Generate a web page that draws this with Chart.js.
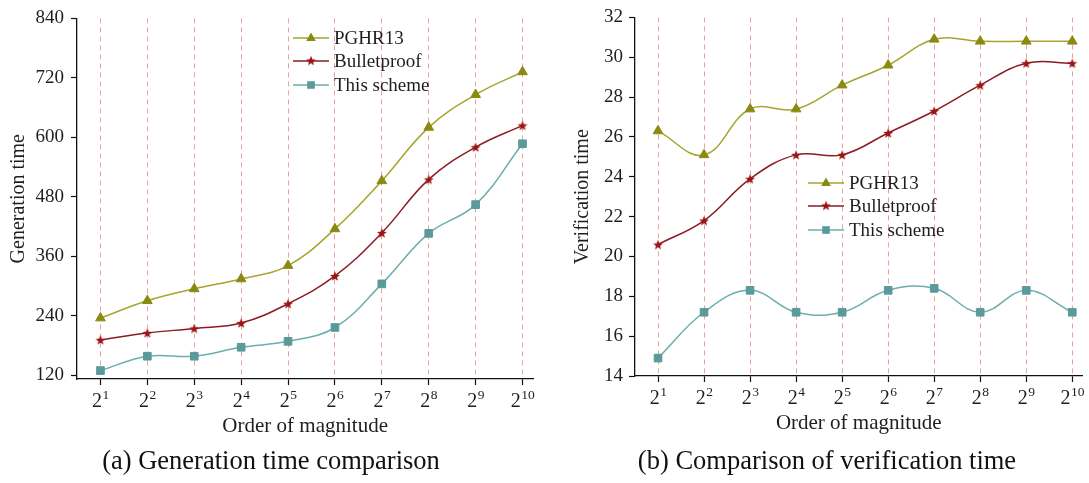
<!DOCTYPE html>
<html><head><meta charset="utf-8">
<script src="https://cdn.jsdelivr.net/npm/chart.js@4"></script>
<style>
html,body{margin:0;padding:0;background:#fff;width:1089px;height:483px;overflow:hidden;}
.wrap{position:absolute;top:0;height:483px;}
#w1{left:0;width:545px;}
#w2{left:545px;width:544px;}
.legend{position:absolute;font-family:'Liberation Serif',serif;font-size:19px;color:#1e1e1e;}
.legend .row{display:flex;align-items:center;height:23.5px;}
.legend canvas{margin-right:5px;}
.caption{position:absolute;font-family:'Liberation Serif',serif;font-size:26.5px;color:#111;white-space:nowrap;transform:translateX(-50%);}
</style>
</head><body>
<div class="wrap" id="w1"><canvas id="c1" width="545" height="483"></canvas></div>
<div class="wrap" id="w2"><canvas id="c2" width="544" height="483"></canvas></div>
<div class="legend" id="lg1" style="left:293px;top:26px;"></div>
<div class="legend" id="lg2" style="left:808px;top:171px;"></div>
<div class="caption" style="left:271px;top:445px;">(a) Generation time comparison</div>
<div class="caption" style="left:827px;top:445px;">(b) Comparison of verification time</div>
<script>
// ---- data ----
const categories = ['2^1','2^2','2^3','2^4','2^5','2^6','2^7','2^8','2^9','2^10'];
const seriesNames = ['PGHR13','Bulletproof','This scheme'];
const pghr13Gen = [235, 270, 294, 314, 341, 415, 512, 620, 686, 732];
const bulletGen = [191, 205, 214, 225, 264, 320, 407, 515, 580, 624];
const schemeGen = [129, 158, 158, 176, 188, 216, 304, 406, 464, 587];
const pghr13Ver = [26.3, 25.1, 27.4, 27.4, 28.6, 29.6, 30.9, 30.8, 30.8, 30.8];
const bulletVer = [20.6, 21.8, 23.9, 25.1, 25.1, 26.2, 27.3, 28.6, 29.7, 29.7];
const schemeVer = [14.9, 17.2, 18.3, 17.2, 17.2, 18.3, 18.4, 17.2, 18.3, 17.2];
const genTicks = [120, 240, 360, 480, 600, 720, 840];
const verTicks = [14, 16, 18, 20, 22, 24, 26, 28, 30, 32];

// ---- styles ----
const FONT = "'Liberation Serif', 'Times New Roman', serif";
const TXT = '#1e1e1e';
const styles = [
  {line:'#a5a530', mark:'#8a8a10', shape:'triangle'},
  {line:'#8a1c24', mark:'#9c1414', shape:'star'},
  {line:'#6aaeae', mark:'#5b9a9a', shape:'rect'}
];

function starImage(color){
  const c = document.createElement('canvas'); c.width = 12; c.height = 12;
  const g = c.getContext('2d'); g.fillStyle = color; g.beginPath();
  for (let i = 0; i < 10; i++){
    const r = i % 2 ? 2.2 : 5.2, a = -Math.PI/2 + i*Math.PI/5;
    const px = 6 + r*Math.cos(a), py = 6.5 + r*Math.sin(a);
    i ? g.lineTo(px,py) : g.moveTo(px,py);
  }
  g.closePath(); g.fill(); return c;
}
function drawMarker(g, shape, color, x, y){
  g.fillStyle = color;
  if (shape === 'triangle'){
    g.beginPath(); g.moveTo(x, y-5.5); g.lineTo(x+4.8, y+3); g.lineTo(x-4.8, y+3); g.closePath(); g.fill();
  } else if (shape === 'rect'){
    g.fillRect(x-3.8, y-3.8, 7.6, 7.6);
  } else {
    g.drawImage(starImage(color), x-6, y-6.5);
  }
}
function legendSymbol(st){
  const c = document.createElement('canvas'); c.width = 36; c.height = 16;
  const g = c.getContext('2d');
  g.strokeStyle = st.line; g.lineWidth = 1.5;
  g.beginPath(); g.moveTo(0, 8); g.lineTo(36, 8); g.stroke();
  drawMarker(g, st.shape, st.mark, 18, 8);
  return c;
}
function buildLegend(id){
  const el = document.getElementById(id);
  seriesNames.forEach((n, i) => {
    const row = document.createElement('div'); row.className = 'row';
    row.appendChild(legendSymbol(styles[i]));
    const s = document.createElement('span'); s.textContent = n; row.appendChild(s);
    el.appendChild(row);
  });
}
buildLegend('lg1'); buildLegend('lg2');

// x tick labels drawn as base with superscript exponent, at the x scale's tick pixels
const supTicks = {
  id: 'supTicks',
  afterDraw(chart){
    const s = chart.scales.x, g = chart.ctx;
    g.save(); g.fillStyle = TXT; g.textBaseline = 'alphabetic'; g.textAlign = 'left';
    categories.forEach((lab, i) => {
      const [b, e] = lab.split('^');
      const x = s.getPixelForValue(i + 1);
      g.font = `20px ${FONT}`; const wb = g.measureText(b).width;
      g.font = `13.5px ${FONT}`; const we = g.measureText(e).width;
      const x0 = x - (wb + we) / 2, y = s.top + 28;
      g.font = `20px ${FONT}`; g.fillText(b, x0, y);
      g.font = `13.5px ${FONT}`; g.fillText(e, x0 + wb + 0.5, y - 8);
    });
    g.restore();
  }
};

function makeDatasets(arrs){
  return arrs.map((arr, i) => {
    const st = styles[i];
    return {
      label: seriesNames[i],
      data: arr.map((v, j) => ({x: j + 1, y: v})),
      borderColor: st.line, borderWidth: 1.5,
      backgroundColor: st.mark,
      pointStyle: st.shape === 'star' ? starImage(st.mark) : st.shape,
      pointRadius: st.shape === 'triangle' ? 5.6 : 5.4,
      pointBackgroundColor: st.mark, pointBorderColor: st.mark, pointBorderWidth: 1,
      tension: 0.4, fill: false
    };
  });
}

function makeChart(id, cfg){
  new Chart(document.getElementById(id), {
    type: 'line',
    data: {datasets: makeDatasets(cfg.series)},
    plugins: [supTicks],
    options: {
      responsive: false, animation: false,
      layout: {padding: cfg.padding},
      plugins: {legend: {display: false}, tooltip: {enabled: false}},
      scales: {
        x: {
          type: 'linear', min: 0.5, max: cfg.xmax,
          afterBuildTicks: s => { s.ticks = categories.map((c, i) => ({value: i + 1})); },
          afterFit: s => { s.height = 60; },
          ticks: {display: false},
          grid: {
            color: '#e8a0a0', lineWidth: 1, drawOnChartArea: true, drawTicks: true,
            borderDash: [5, 4], tickLength: 6, tickColor: '#111', tickWidth: 1.2, tickBorderDash: []
          },
          border: {display: true, color: '#111', width: 1.3, dash: [5, 4]},
          title: {display: true, text: 'Order of magnitude', font: {family: FONT, size: 21}, color: TXT, padding: {top: 1, bottom: 0}}
        },
        y: {
          type: 'linear', min: cfg.ymin, max: cfg.ymax,
          afterBuildTicks: s => { s.ticks = cfg.ticks.map(v => ({value: v})); },
          afterFit: s => { s.width = cfg.yWidth; },
          ticks: {font: {family: FONT, size: 19}, color: TXT, padding: cfg.tickPad},
          grid: {drawOnChartArea: false, drawTicks: true, tickLength: 6, tickColor: '#111', tickWidth: 1.2},
          border: {display: true, color: '#111', width: 1.3},
          title: {display: true, text: cfg.ytitle, font: {family: FONT, size: 20}, color: TXT, padding: {top: cfg.titlePad, bottom: 0}}
        }
      }
    }
  });
}

makeChart('c1', {
  series: [pghr13Gen, bulletGen, schemeGen], ymin: 112, ymax: 840, ticks: genTicks,
  xmax: 10.23, yWidth: 77, tickPad: 7, titlePad: 7, ytitle: 'Generation time',
  padding: {left: 0, top: 14, right: 11.7, bottom: 44}
});
makeChart('c2', {
  series: [pghr13Ver, bulletVer, schemeVer], ymin: 14, ymax: 32, ticks: verTicks,
  xmax: 10.22, yWidth: 90, tickPad: 6, titlePad: 26, ytitle: 'Verification time',
  padding: {left: 0, top: 15, right: 5.7, bottom: 47}
});
</script>
</body></html>
